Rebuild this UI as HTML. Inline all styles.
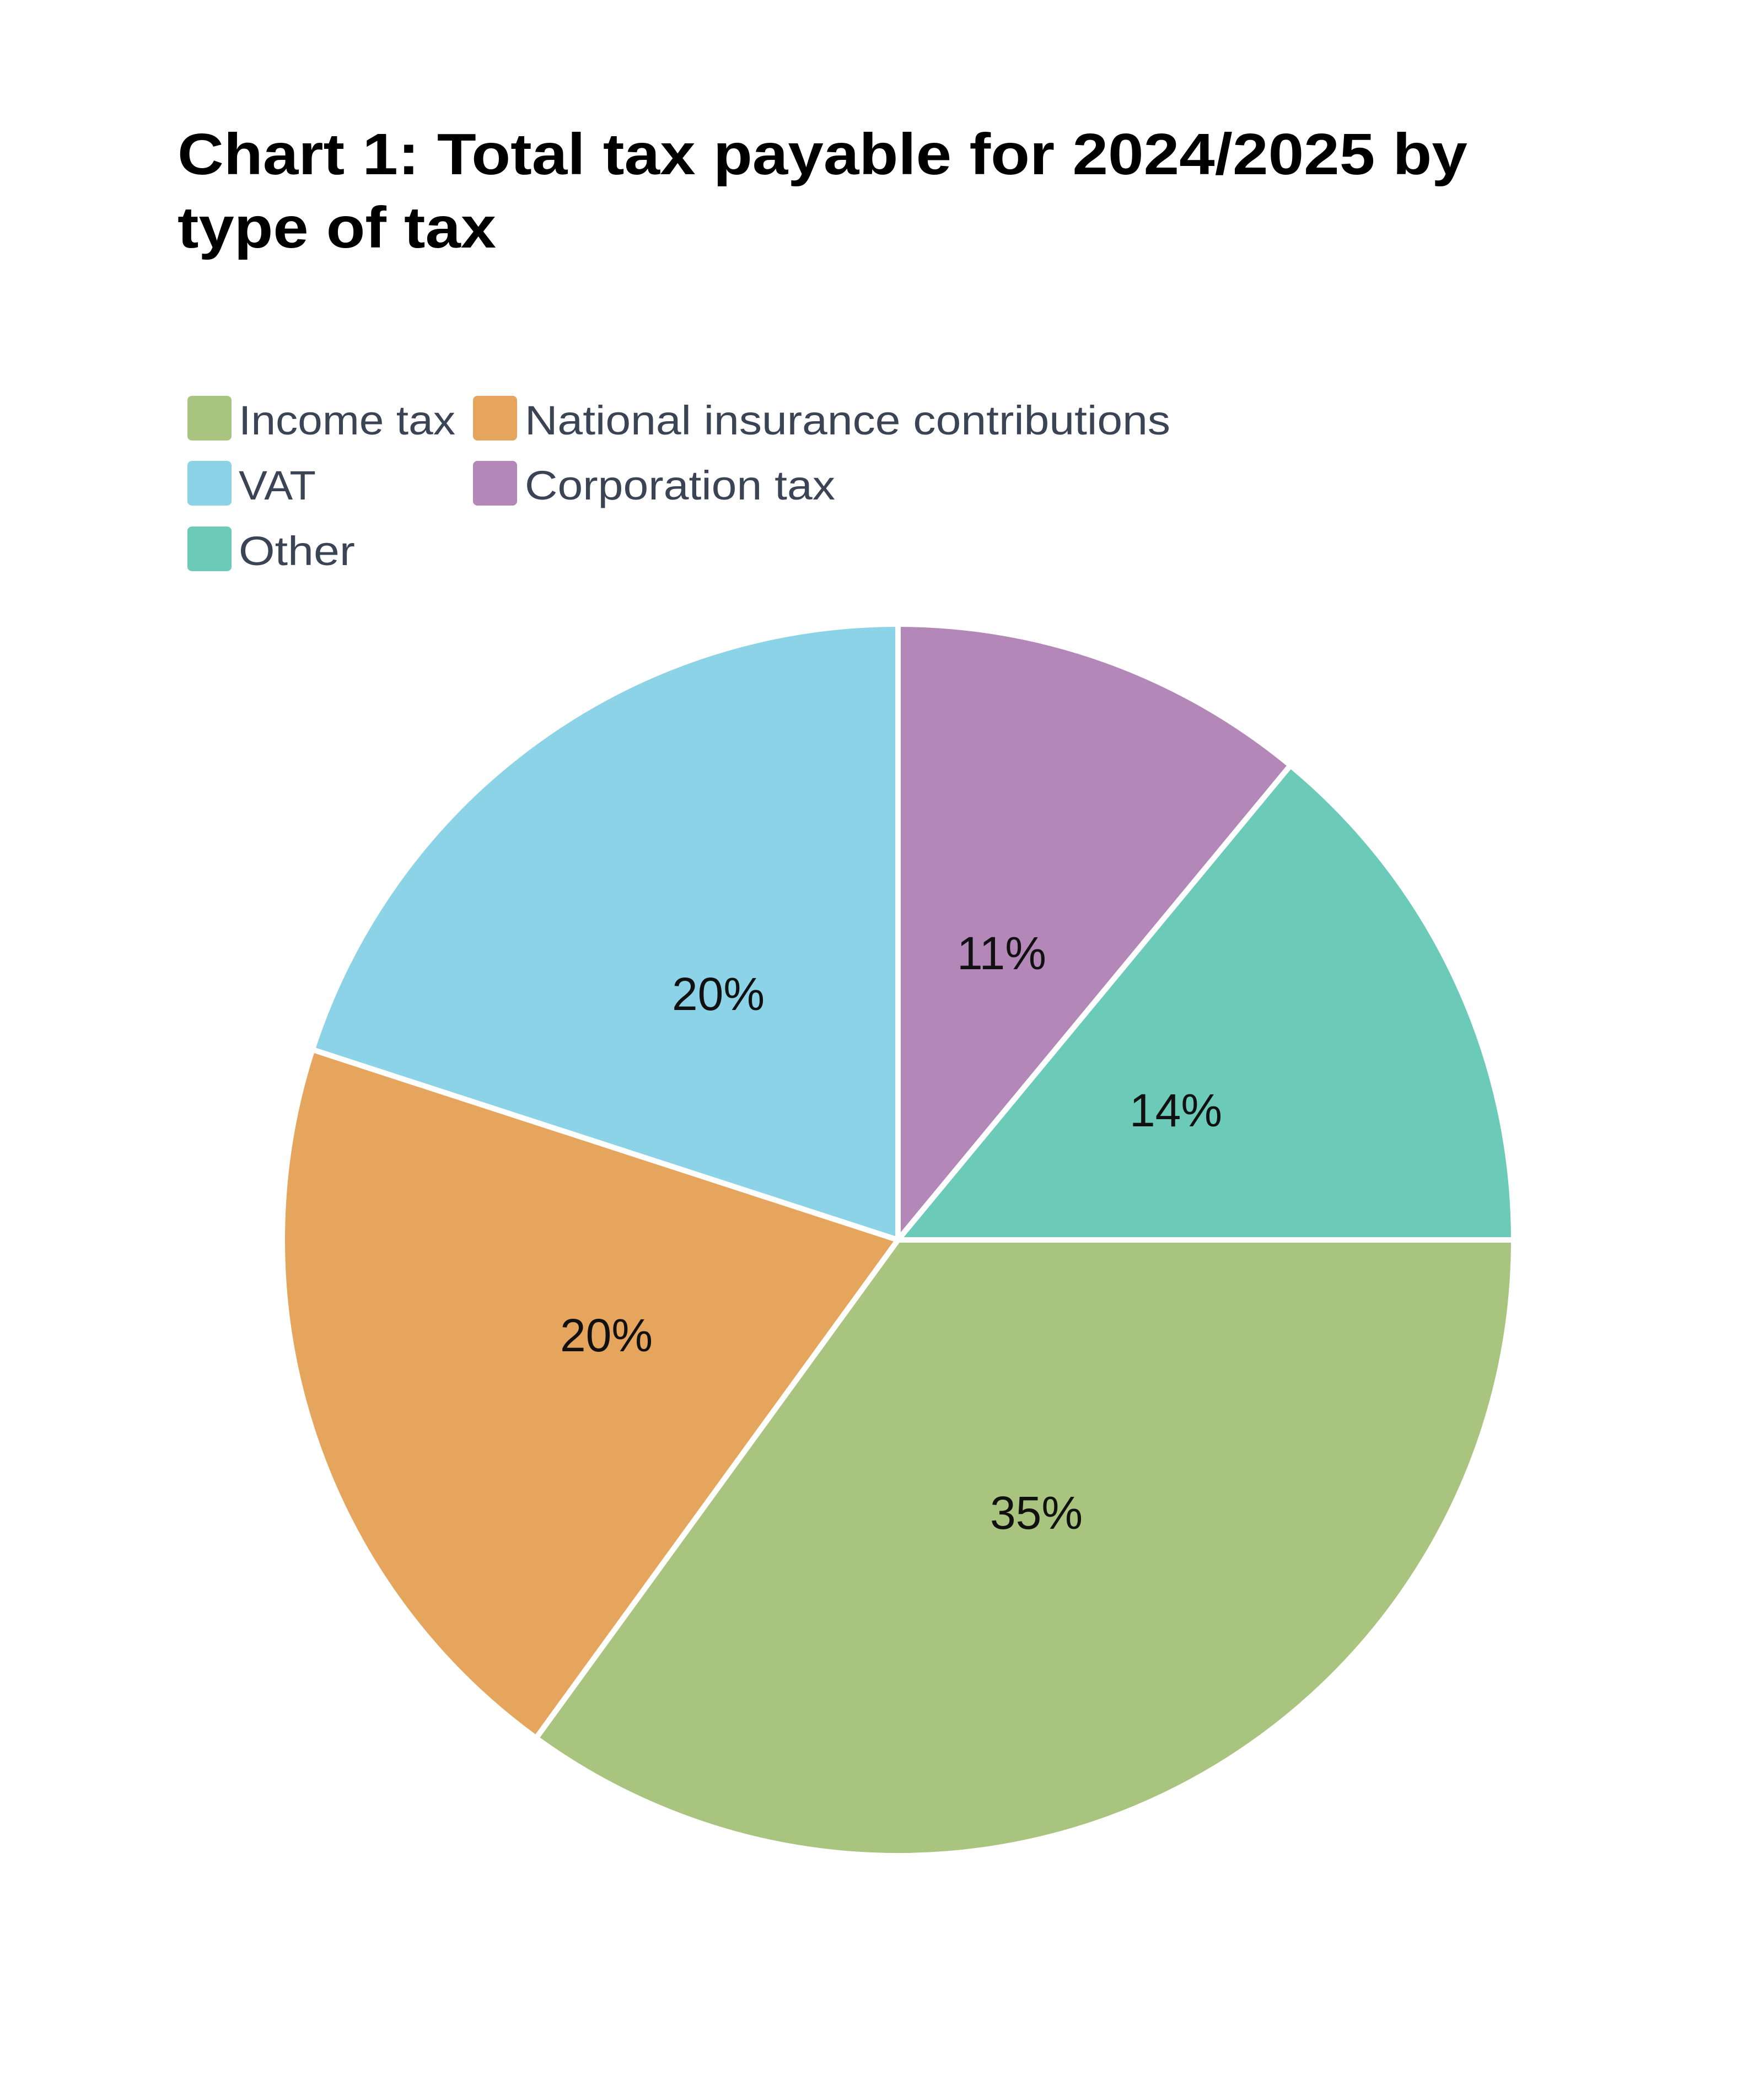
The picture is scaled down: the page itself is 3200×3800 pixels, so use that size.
<!DOCTYPE html>
<html><head><meta charset="utf-8"><style>html,body{margin:0;padding:0;background:#fff}svg{display:block}</style></head>
<body>
<svg width="3200" height="3800" viewBox="0 0 3200 3800" xmlns="http://www.w3.org/2000/svg">
<rect width="3200" height="3800" fill="#fff"/>
<g font-family="Liberation Sans, sans-serif" font-weight="bold" font-size="106" fill="#000">
<text x="322" y="316" textLength="2340" lengthAdjust="spacingAndGlyphs">Chart 1: Total tax payable for 2024/2025 by</text>
<text x="322" y="449" textLength="578" lengthAdjust="spacingAndGlyphs">type of tax</text>
</g>
<g>
<rect x="340" y="718" width="80" height="81" rx="8" fill="#a9c47f"/>
<rect x="858" y="718" width="80" height="81" rx="8" fill="#e5a55d"/>
<rect x="340" y="836" width="80" height="81" rx="8" fill="#8dd3e7"/>
<rect x="858" y="836" width="80" height="81" rx="8" fill="#b388b8"/>
<rect x="340" y="955" width="80" height="81" rx="8" fill="#6ccab9"/>
</g>
<g font-family="Liberation Sans, sans-serif" font-size="74" fill="#3a4454">
<text x="433" y="788" textLength="393" lengthAdjust="spacingAndGlyphs">Income tax</text>
<text x="952" y="788" textLength="1171" lengthAdjust="spacingAndGlyphs">National insurance contributions</text>
<text x="433" y="906" textLength="140" lengthAdjust="spacingAndGlyphs">VAT</text>
<text x="952" y="906" textLength="563" lengthAdjust="spacingAndGlyphs">Corporation tax</text>
<text x="433" y="1025" textLength="211" lengthAdjust="spacingAndGlyphs">Other</text>
</g>
<g stroke="#fff" stroke-width="10" stroke-linejoin="round">
<path d="M1629,2249 L2746,2249 A1117,1117 0 0 1 972.4,3152.7 Z" fill="#a9c47f"/>
<path d="M1629,2249 L972.4,3152.7 A1117,1117 0 0 1 566.7,1903.8 Z" fill="#e5a55d"/>
<path d="M1629,2249 L566.7,1903.8 A1117,1117 0 0 1 1629,1132 Z" fill="#8dd3e7"/>
<path d="M1629,2249 L1629,1132 A1117,1117 0 0 1 2341,1388.3 Z" fill="#b388b8"/>
<path d="M1629,2249 L2341,1388.3 A1117,1117 0 0 1 2746,2249 Z" fill="#6ccab9"/>
</g>
<g font-family="Liberation Sans, sans-serif" font-size="84" fill="#111" text-anchor="middle">
<text x="1817" y="1758">11%</text>
<text x="2133" y="2043">14%</text>
<text x="1303" y="1832">20%</text>
<text x="1100" y="2451">20%</text>
<text x="1880" y="2773">35%</text>
</g>
</svg>
</body></html>
